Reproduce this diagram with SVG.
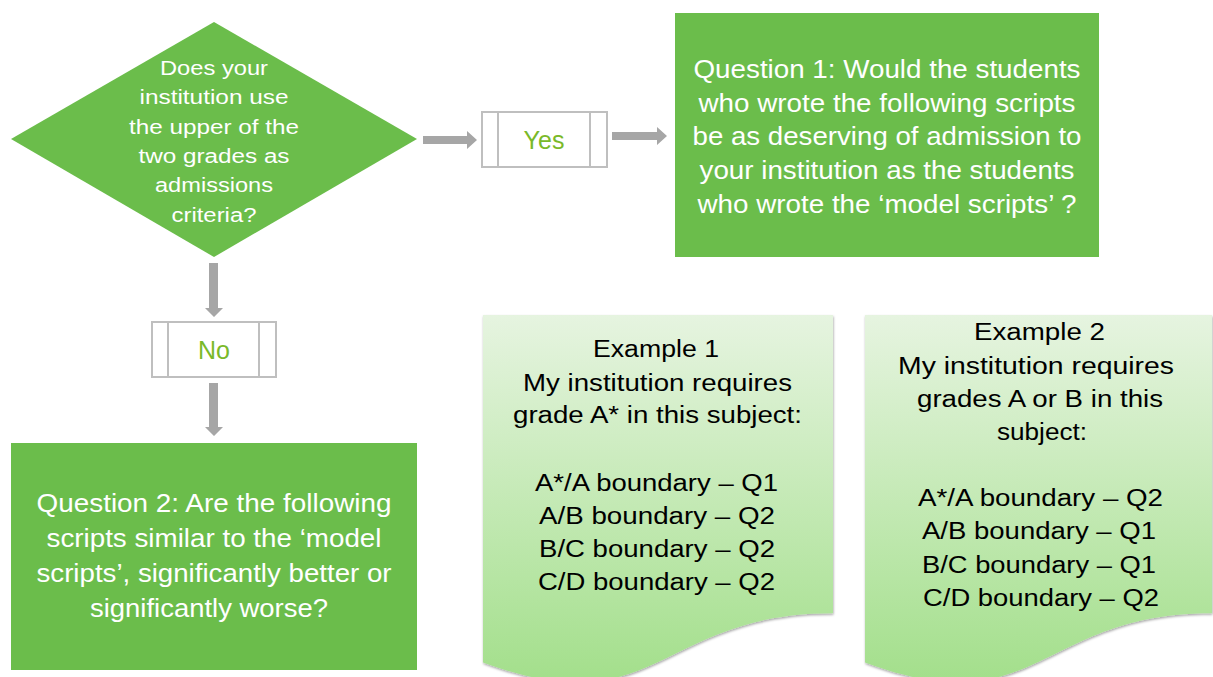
<svg xmlns="http://www.w3.org/2000/svg" width="1213" height="677" viewBox="0 0 1213 677">
<style>
.green{fill:#6bbd4b}
.wt{fill:#ffffff;font-family:"Liberation Sans",Arial,sans-serif;text-anchor:middle}
.bt{fill:#000000;font-family:"Liberation Sans",Arial,sans-serif;text-anchor:middle;font-size:23px}
.lbl{fill:#7ab929;font-family:"Liberation Sans",Arial,sans-serif;text-anchor:middle;font-size:25px}
.pbox{fill:#ffffff;stroke:#bfbfbf;stroke-width:2}
.pline{stroke:#bfbfbf;stroke-width:2}
.arr{fill:#a6a6a6}
.doc{fill:url(#docGrad);filter:url(#sh)}
</style>
<defs>
<linearGradient id="docGrad" x1="0" y1="0" x2="0" y2="1">
<stop offset="0" stop-color="#e6f4e0"/>
<stop offset="1" stop-color="#a3df8b"/>
</linearGradient>
<filter id="sh" x="-5%" y="-5%" width="115%" height="115%">
<feDropShadow dx="0.5" dy="1.5" stdDeviation="1.2" flood-color="#000" flood-opacity="0.35"/>
</filter>
</defs>

<g id="connectors">
<path class="arr" d="M423,136 H467 V131 L477,140 L467,149 V144 H423 Z"/>
<path class="arr" d="M612,132 H657 V127 L667,136 L657,145 V140 H612 Z"/>
<path class="arr" d="M209,263 V308 H205 L214,317 L223,308 H218 V263 Z"/>
<path class="arr" d="M209,383 V427 H205 L214,436 L223,427 H218 V383 Z"/>
</g>

<g id="decision">
<polygon class="green" points="214,22 417,139 214,257 11,139"/>
<g class="wt" font-size="20">
<text x="214" y="75" textLength="108" lengthAdjust="spacingAndGlyphs">Does your</text>
<text x="214" y="104" textLength="149" lengthAdjust="spacingAndGlyphs">institution use</text>
<text x="214" y="134" textLength="170" lengthAdjust="spacingAndGlyphs">the upper of the</text>
<text x="214" y="163" textLength="151" lengthAdjust="spacingAndGlyphs">two grades as</text>
<text x="214" y="192" textLength="118" lengthAdjust="spacingAndGlyphs">admissions</text>
<text x="214" y="222" textLength="85" lengthAdjust="spacingAndGlyphs">criteria?</text>
</g>
</g>

<g id="yes">
<rect class="pbox" x="482" y="112" width="125" height="55"/>
<line class="pline" x1="498" y1="112" x2="498" y2="167"/>
<line class="pline" x1="590" y1="112" x2="590" y2="167"/>
<text class="lbl" x="544" y="149">Yes</text>
</g>

<g id="no">
<rect class="pbox" x="152" y="322" width="124" height="55"/>
<line class="pline" x1="168" y1="322" x2="168" y2="377"/>
<line class="pline" x1="259" y1="322" x2="259" y2="377"/>
<text class="lbl" x="214" y="359">No</text>
</g>

<g id="question1">
<rect class="green" x="675" y="13" width="424" height="244"/>
<g class="wt" font-size="26">
<text x="887" y="78" textLength="387" lengthAdjust="spacingAndGlyphs">Question 1: Would the students</text>
<text x="887" y="111.5" textLength="377" lengthAdjust="spacingAndGlyphs">who wrote the following scripts</text>
<text x="887" y="145" textLength="389" lengthAdjust="spacingAndGlyphs">be as deserving of admission to</text>
<text x="887" y="179" textLength="375" lengthAdjust="spacingAndGlyphs">your institution as the students</text>
<text x="887" y="212.5" textLength="379" lengthAdjust="spacingAndGlyphs">who wrote the ‘model scripts’ ?</text>
</g>
</g>

<g id="question2">
<rect class="green" x="11" y="443" width="406" height="227"/>
<g class="wt" font-size="26">
<text x="214" y="512" textLength="355" lengthAdjust="spacingAndGlyphs">Question 2: Are the following</text>
<text x="214" y="547" textLength="335" lengthAdjust="spacingAndGlyphs">scripts similar to the ‘model</text>
<text x="214" y="582" textLength="355" lengthAdjust="spacingAndGlyphs">scripts’, significantly better or</text>
<text x="209" y="617" textLength="238" lengthAdjust="spacingAndGlyphs">significantly worse?</text>
</g>
</g>

<g id="example1">
<path class="doc" d="M483,315 H833 V613.3 C658,613.3 658,726.9 483,662.4 Z"/>
<text class="bt" x="656" y="357" textLength="126" lengthAdjust="spacingAndGlyphs">Example 1</text>
<text class="bt" x="657.5" y="391" textLength="269" lengthAdjust="spacingAndGlyphs">My institution requires</text>
<text class="bt" x="657.5" y="423" textLength="289" lengthAdjust="spacingAndGlyphs">grade A* in this subject:</text>
<text class="bt" x="656.5" y="491" textLength="243" lengthAdjust="spacingAndGlyphs">A*/A boundary – Q1</text>
<text class="bt" x="657" y="524" textLength="236" lengthAdjust="spacingAndGlyphs">A/B boundary – Q2</text>
<text class="bt" x="657" y="557" textLength="236" lengthAdjust="spacingAndGlyphs">B/C boundary – Q2</text>
<text class="bt" x="656.5" y="590" textLength="237" lengthAdjust="spacingAndGlyphs">C/D boundary – Q2</text>
</g>

<g id="example2">
<path class="doc" d="M865,315 H1212 V613.3 C1038.5,613.3 1038.5,726.9 865,662.4 Z"/>
<text class="bt" x="1039.5" y="340" textLength="131" lengthAdjust="spacingAndGlyphs">Example 2</text>
<text class="bt" x="1036" y="374" textLength="276" lengthAdjust="spacingAndGlyphs">My institution requires</text>
<text class="bt" x="1040" y="407" textLength="246" lengthAdjust="spacingAndGlyphs">grades A or B in this</text>
<text class="bt" x="1042" y="440" textLength="90" lengthAdjust="spacingAndGlyphs">subject:</text>
<text class="bt" x="1040.5" y="506" textLength="245" lengthAdjust="spacingAndGlyphs">A*/A boundary – Q2</text>
<text class="bt" x="1039" y="539" textLength="234" lengthAdjust="spacingAndGlyphs">A/B boundary – Q1</text>
<text class="bt" x="1039" y="573" textLength="234" lengthAdjust="spacingAndGlyphs">B/C boundary – Q1</text>
<text class="bt" x="1041" y="606" textLength="236" lengthAdjust="spacingAndGlyphs">C/D boundary – Q2</text>
</g>
</svg>
